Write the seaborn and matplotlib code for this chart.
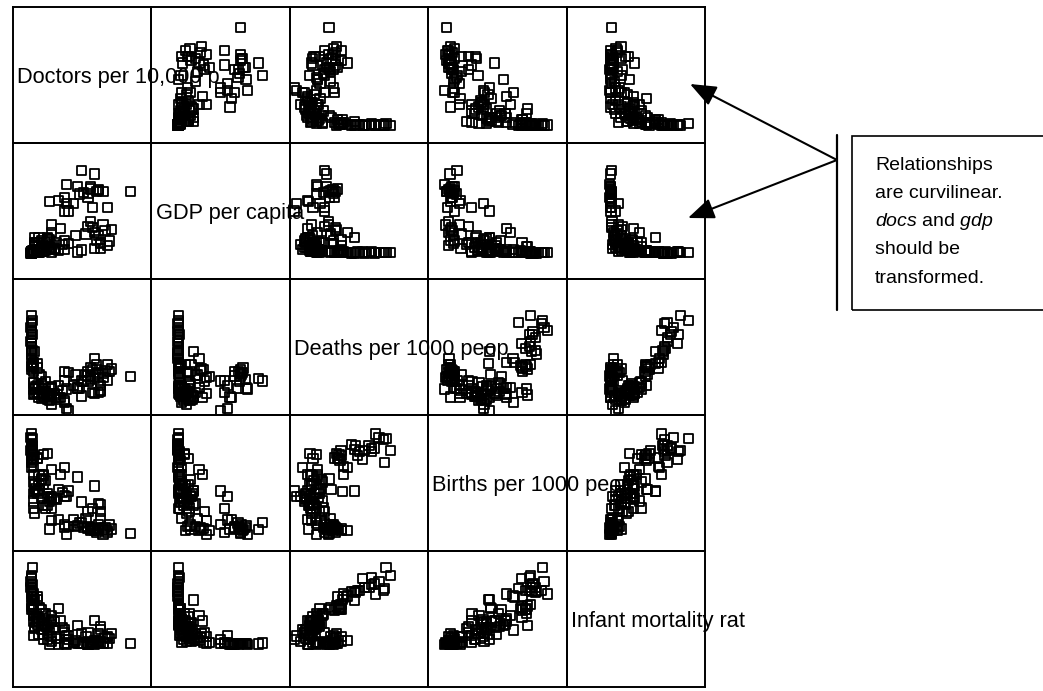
import numpy as np
import pandas as pd
import matplotlib
matplotlib.use("Agg")
import matplotlib.pyplot as plt
import seaborn as sns
from matplotlib.patches import Rectangle, FancyArrowPatch
from matplotlib.lines import Line2D

# ---------------- data (one value per country) ----------------
docs = [24, 22, 17, 31, 28, 16, 47, 30, 27, 32, 28, 25, 34, 32, 23, 27, 36, 16, 9, 13, 29, 20, 18, 17, 28, 34,
        38, 36, 21, 30, 29, 31, 18, 35, 37, 33, 30, 33, 32, 33,
        8, 7, 27, 8, 9, 10, 16, 5, 11, 4, 6, 6, 6, 26, 10, 11, 7, 1.5, 12, 6,
        13, 14, 3, 6, 8, 16, 9, 2.5, 4, 5, 10, 15,
        10, 4, 1.2, 3, 1.5, 1.2, 2, 3.5, 4, 10, 1.5, 3, 1, 0.6, 0.6, 24, 22,
        1.5, 0.3, 1.4, 0.4, 0.4, 0.7, 1, 0.5, 0.2, 0.5, 0.4, 0.8, 0.6, 0.4, 0.3, 1, 1.4, 0.3, 0.8, 0.4, 2, 5,
        0.2, 0.3, 0.5, 2]
gdp = [23500, 19000, 19500, 17500, 18900, 15900, 17500, 22400, 16900, 17800, 18200, 17200, 17500, 18000, 16800,
       15900, 13000, 12000, 14600, 14900, 13000, 14000, 12000, 14000, 9000, 8000,
       6700, 2340, 5000, 6000, 7300, 3800, 2700, 6500, 3500, 3200, 1350, 2900, 5000, 1300,
       4200, 3200, 7500, 4500, 1800, 1100, 3500, 650, 1300, 1100, 600, 450, 1500, 5500, 2500, 1200, 1000, 380,
       3000, 1600,
       750, 7000, 3000, 1950, 2000, 1100, 4000, 1000, 2100, 1700, 6000, 2500,
       400, 300, 700, 400, 200, 850, 2500, 230, 4500, 8000, 500, 220, 200, 260, 170, 1000, 400,
       300, 130, 280, 140, 170, 200, 400, 150, 80, 620, 400, 800, 600, 250, 350, 400, 650, 300, 350, 400,
       3000, 3500, 200, 200, 400, 4500]
deaths = [8.8, 7.3, 7.1, 11.2, 9.2, 10.9, 9.8, 9.3, 10.8, 10.2, 11.6, 8.7, 10.5, 10.6, 7.2, 9.9, 8.9, 8.8, 5.4,
          5.2, 6.4, 7.9, 2.4, 2.9, 9.7, 9.6,
          11.4, 12.4, 10.1, 13.6, 11.2, 12.3, 10.7, 11.1, 10.8, 7.8, 6.1, 6.6, 6.3, 6.9,
          4.9, 8.6, 8.8, 5.6, 4.7, 7.6, 4.6, 9.8, 6.2, 7.4, 5.9, 6.2, 5.7, 10.1, 3.7, 5.8, 6.6, 12.8, 4.9, 5.5,
          7.9, 5.3, 6.4, 7.1, 5.8, 4.2, 5.9, 7.6, 6.1, 5.1, 7.4, 6.8,
          7.2, 10.2, 8.4, 11.6, 12.8, 7.1, 6.2, 7.8, 5.3, 6.1, 5.9, 12.6, 21.8, 16.2, 13.7, 5.6, 7.3,
          12.4, 15.2, 10.9, 14.6, 21.2, 15.3, 11.8, 19.4, 17.3, 18.8, 11.4, 12.1, 11.9, 19.6, 18.2, 12.3, 8.4,
          21.4, 18.7, 16.8, 7.2, 8.2, 20.3, 22.8, 15.8, 15.1]
births = [15.2, 14.1, 10.2, 11.1, 13.1, 13.4, 10.8, 12.3, 13.6, 14.2, 12.4, 13.1, 12.2, 11.9, 15.1, 13.0, 11.2,
          14.3, 12.6, 16.4, 21.2, 16.3, 28.4, 26.1, 11.8, 10.4,
          12.6, 11.8, 13.6, 11.9, 12.8, 12.6, 13.7, 13.1, 14.2, 19.8, 30.5, 22.9, 23.2, 16.8,
          27.2, 21.3, 19.8, 22.6, 24.1, 25.8, 26.3, 33.4, 25.2, 35.4, 35.1, 34.8, 31.2, 17.1, 26.2, 25.1, 32.6,
          38.6, 24.9, 22.3,
          29.1, 35.4, 41.8, 43.6, 43.9, 38.2, 26.1, 29.2, 30.8, 25.1, 37.2, 27.9,
          21.1, 28.9, 24.2, 42.1, 35.3, 27.4, 19.2, 27.3, 28.6, 16.1, 21.3, 28.2, 50.2, 44.8, 38.1, 23.8, 34.2,
          43.3, 45.8, 42.1, 47.6, 49.8, 47.2, 41.8, 46.3, 45.1, 44.7, 44.1, 41.2, 43.4, 52.1, 47.2, 45.3, 32.1,
          40.2, 46.2, 41.7, 31.2, 33.1, 50.8, 45.2, 43.1, 28.4]
infant = [8.1, 6.8, 4.4, 6.5, 6.7, 7.2, 7.6, 6.2, 5.7, 6.3, 6.6, 6.3, 7.2, 6.7, 7.3, 5.3, 6.9, 7.4, 5.8, 5.7,
          8.6, 8.9, 15.6, 22.0, 9.2, 8.2,
          27.0, 20.7, 13.8, 12.5, 9.3, 12.0, 23.2, 19.0, 17.0, 41.0, 53.0, 35.0, 27.0, 10.2,
          35.0, 66.0, 29.4, 14.6, 28.0, 54.0, 28.0, 75.0, 39.0, 57.0, 45.0, 52.5, 25.2, 20.0, 11.0, 51.5, 41.0,
          100.0, 16.5, 16.0,
          76.4, 52.0, 60.0, 67.0, 43.0, 34.0, 49.0, 50.0, 52.0, 35.0, 63.0, 39.5,
          52.0, 79.0, 63.0, 101.0, 106.0, 51.0, 37.0, 46.0, 25.6, 21.7, 22.5, 95.0, 159.0, 112.0, 102.0, 27.7,
          43.0,
          75.0, 110.0, 74.0, 110.0, 112.0, 108.0, 80.0, 126.0, 118.0, 139.0, 82.0, 77.0, 76.0, 106.0, 118.0,
          85.0, 67.0, 117.0, 124.0, 137.0, 39.3, 47.1, 130.0, 143.0, 113.0, 94.0]

var_names = ["docs", "gdp", "deaths", "births", "infant"]
diag_labels = ["Doctors per 10,000 p", "GDP per capita", "Deaths per 1000 peop",
               "Births per 1000 peop", "Infant mortality rat"]
note_lines = ["Relationships", "are curvilinear.", r"$\mathit{docs}$ and $\mathit{gdp}$",
              "should be", "transformed."]

# ---------------- style ----------------
sns.set_theme(style="white")
plt.rcParams["font.family"] = ["Liberation Sans", "DejaVu Sans"]
plt.rcParams["mathtext.fontset"] = "custom"
plt.rcParams["mathtext.rm"] = "Liberation Sans"
plt.rcParams["mathtext.it"] = "Liberation Sans:italic"

df = pd.DataFrame({"docs": docs, "gdp": gdp, "deaths": deaths, "births": births, "infant": infant})

W, H = 1043, 691
g = sns.PairGrid(df, vars=var_names, height=1.4, aspect=1.0, despine=False)
g.map_offdiag(sns.scatterplot, marker="s", s=44, facecolor="none", edgecolor="black", linewidth=1.3)

fig = g.figure
fig.set_size_inches(W / 100, H / 100)
fig.set_facecolor("white")
fig.subplots_adjust(left=13 / W, right=705 / W, bottom=1 - 687 / H, top=1 - 7 / H, wspace=0, hspace=0)

# where each variable's min / max sit inside a cell (fraction of the cell)
frac = {"docs": (0.13, 0.85), "gdp": (0.19, 0.80), "deaths": (0.03, 0.73),
        "births": (0.12, 0.86), "infant": (0.31, 0.88)}
lims = {}
for v in var_names:
    mn, mx = df[v].min(), df[v].max()
    f0, f1 = frac[v]
    span = (mx - mn) / (f1 - f0)
    lo = mn - f0 * span
    lims[v] = (lo, lo + span)

n = len(var_names)
for i in range(n):
    for j in range(n):
        ax = g.axes[i, j]
        ax.set_xlim(lims[var_names[j]])
        ax.set_ylim(lims[var_names[i]])
        ax.set_xlabel("")
        ax.set_ylabel("")
        ax.tick_params(left=False, bottom=False, labelleft=False, labelbottom=False)
        ax.set_facecolor("none")
        for sp in ax.spines.values():
            sp.set_visible(True)
            sp.set_color("black")
            sp.set_linewidth(1.4)

for i, lab in enumerate(diag_labels):
    g.axes[i, i].text(0.03, 0.478, lab, transform=g.axes[i, i].transAxes, ha="left", va="center",
                      fontsize=15.7, color="black", clip_on=False)

# ---------------- annotation ----------------
def fx(x):
    return x / W

def fy(y):
    return 1 - y / H

box = Rectangle((fx(852), fy(310)), fx(1060) - fx(852), fy(136) - fy(310), transform=fig.transFigure,
                fill=False, edgecolor="black", linewidth=1.2, clip_on=False)
fig.add_artist(box)
fig.add_artist(Line2D([fx(837), fx(837)], [fy(135), fy(310)], transform=fig.transFigure,
                      color="black", linewidth=1.6))
for tip in [(690, 84), (688, 218)]:
    arr = FancyArrowPatch((fx(837), fy(160)), (fx(tip[0]), fy(tip[1])), transform=fig.transFigure,
                          arrowstyle="-|>,head_length=0.8,head_width=0.32", mutation_scale=20,
                          color="black", linewidth=1.5, shrinkA=0, shrinkB=0)
    fig.add_artist(arr)

baselines = [170, 198, 226, 254, 283]
for line, yb in zip(note_lines, baselines):
    fig.text(fx(875), fy(yb), line, ha="left", va="baseline", fontsize=14, color="black")

fig.savefig("out.png", dpi=100, facecolor="white")
